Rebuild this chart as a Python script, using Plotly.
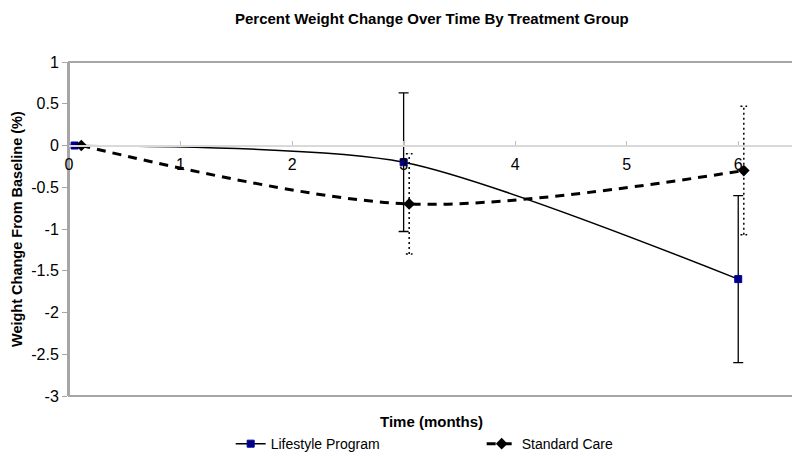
import plotly.graph_objects as go

# Data
lifestyle_x = [0.05, 3.0, 6.0]
lifestyle_y = [0.0, -0.2, -1.6]
lifestyle_err = [0.0, 0.83, 1.0]

standard_x = [0.11, 3.05, 6.05]
standard_y = [0.0, -0.7, -0.3]
standard_err = [0.0, 0.6, 0.77]

x_ticks = [0, 1, 2, 3, 4, 5, 6]
y_ticks = [-3, -2.5, -2, -1.5, -1, -0.5, 0, 0.5, 1]

FONT = "Liberation Sans, Arial, sans-serif"
cap = 0.03

fig = go.Figure()

# Standard care dotted error bars (built from data)
for x, y, e in zip(standard_x, standard_y, standard_err):
    if e <= 0:
        continue
    sx = [x, x, None, x - cap, x + cap, None, x - cap, x + cap]
    sy = [y - e, y + e, None, y + e, y + e, None, y - e, y - e]
    fig.add_trace(go.Scatter(x=sx, y=sy, mode="lines", showlegend=False, hoverinfo="skip",
                             line=dict(color="black", width=1.5, dash="2px,3px")))

fig.add_trace(go.Scatter(
    x=lifestyle_x, y=lifestyle_y, name="Lifestyle Program", mode="lines+markers",
    line=dict(color="black", width=1.5, shape="spline", smoothing=0.7),
    marker=dict(symbol="square", size=7, color="#000080", line=dict(color="#0000a0", width=1)),
    error_y=dict(type="data", array=lifestyle_err, visible=True, color="black", thickness=1.3, width=5),
))

fig.add_trace(go.Scatter(
    x=standard_x, y=standard_y, name="Standard Care", mode="lines+markers",
    line=dict(color="black", width=3, dash="9px,7px", shape="spline", smoothing=0.9),
    marker=dict(symbol="diamond", size=9, color="black"),
))

fig.update_layout(
    width=792, height=450,
    margin=dict(l=61, r=6, t=54, b=62, autoexpand=False),
    paper_bgcolor="white", plot_bgcolor="white",
    font=dict(family=FONT, size=15, color="black"),
    showlegend=True,
    legend=dict(orientation="h", x=0.223, y=-0.096, xanchor="left", yanchor="top",
                entrywidth=206, entrywidthmode="pixels", font=dict(size=14),
                bgcolor="rgba(0,0,0,0)", tracegroupgap=0),
    xaxis=dict(range=[0, 6.5], tickvals=x_ticks, anchor="free", position=0.75, automargin=False,
               showline=True, linecolor="#d9d9d9", linewidth=2,
               ticks="inside", ticklen=4, tickcolor="#c0c0c0", showgrid=False, zeroline=False,
               ticklabelstandoff=4, tickfont=dict(size=16)),
    yaxis=dict(range=[-3, 1], tickvals=y_ticks, ticktext=[str(v) for v in y_ticks], automargin=False,
               showline=True, linecolor="#a6a6a6", linewidth=2,
               ticks="outside", ticklen=5, tickcolor="#a6a6a6", showgrid=False, zeroline=False,
               tickfont=dict(size=16)),
    shapes=[dict(type="rect", xref="paper", yref="paper", x0=0, y0=0, x1=1, y1=1,
                 line=dict(color="#a6a6a6", width=2), layer="below")],
    annotations=[
        dict(text="<b>Percent Weight Change Over Time By Treatment Group</b>", xref="paper", yref="paper",
             x=0.5, y=1 + (62 - 18) / 334, xanchor="center", yanchor="middle", showarrow=False,
             font=dict(size=15)),
        dict(text="<b>Weight Change From Baseline (%)</b>", xref="paper", yref="paper",
             x=-(69 - 17) / 725, y=0.5, xanchor="center", yanchor="middle", textangle=-90,
             showarrow=False, font=dict(size=14.5)),
        dict(text="<b>Time (months)</b>", xref="paper", yref="paper",
             x=0.5, y=-(421 - 396) / 334, xanchor="center", yanchor="middle", showarrow=False,
             font=dict(size=15)),
    ],
)

fig.write_html("out.html")
